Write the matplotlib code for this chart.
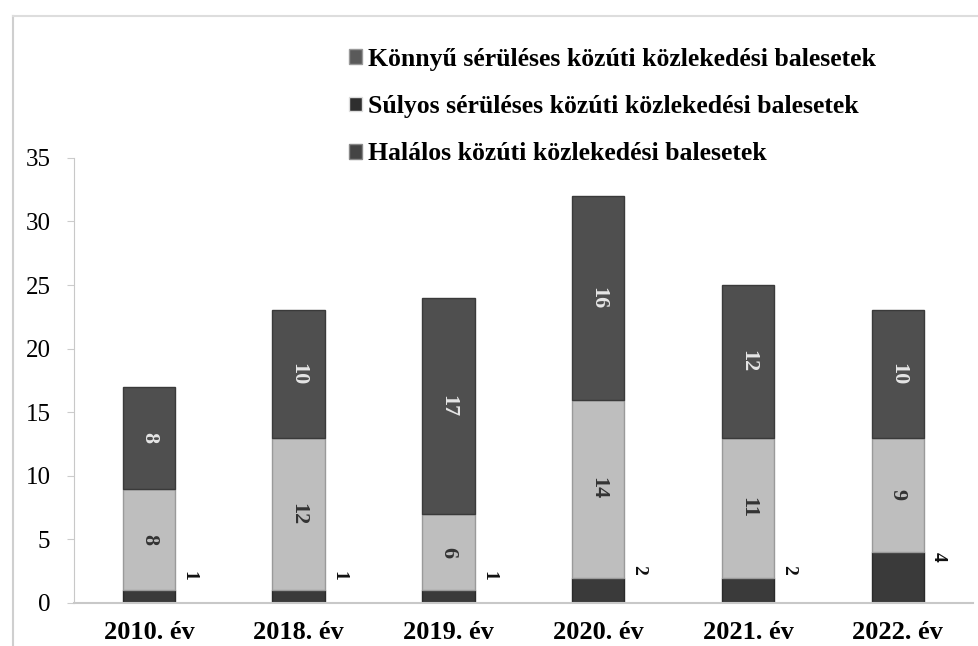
import numpy as np
import matplotlib.pyplot as plt
from matplotlib.lines import Line2D
from matplotlib.patches import Patch

plt.rcParams['font.family'] = ['Liberation Serif', 'DejaVu Serif']

# data
years = ["2010. év", "2018. év", "2019. év", "2020. év", "2021. év", "2022. év"]
halalos = [1, 1, 1, 2, 2, 4]
sulyos = [8, 12, 6, 14, 11, 9]
konnyu = [8, 10, 17, 16, 12, 10]

labels = ["Könnyű sérüléses közúti közlekedési balesetek",
          "Súlyos sérüléses közúti közlekedési balesetek",
          "Halálos közúti közlekedési balesetek"]

c_top = "#4f4f4f"
c_mid = "#bebebe"
c_bot = "#3a3a3a"

fig = plt.figure(figsize=(9.79, 6.46), dpi=100)
ax = fig.add_axes([0.0756, 0.0666, 0.918, 0.689])

x = np.arange(len(years))
w = 0.35
halalos = np.array(halalos)
sulyos = np.array(sulyos)
konnyu = np.array(konnyu)

ax.bar(x, halalos, w, color=c_bot, edgecolor="#2a2a2a", linewidth=1)
ax.bar(x, sulyos, w, bottom=halalos, color=c_mid, edgecolor="#9a9a9a", linewidth=1)
ax.bar(x, konnyu, w, bottom=halalos + sulyos, color=c_top, edgecolor="#3a3a3a", linewidth=1)

# value labels, rotated like in the scan
for i in range(len(years)):
    ax.text(x[i], halalos[i] + sulyos[i] + konnyu[i] / 2, str(konnyu[i]), rotation=-90,
            ha="center", va="center", fontsize=16, fontweight="bold", color="#e6e6e6")
    ax.text(x[i], halalos[i] + sulyos[i] / 2, str(sulyos[i]), rotation=-90,
            ha="center", va="center", fontsize=16, fontweight="bold", color="#333333")
    ax.text(x[i] + 0.27, halalos[i] / 2 + 1.6, str(halalos[i]), rotation=-90,
            ha="center", va="center", fontsize=14, fontweight="bold", color="#111111")

ax.set_xlim(-0.5, 5.5)
ax.set_ylim(0, 35)
ax.set_yticks(range(0, 36, 5))
ax.set_xticks(x)
ax.set_xticklabels(years, fontsize=19, fontweight="bold")
ax.tick_params(axis="y", labelsize=18, length=5, color="#cccccc", pad=12)
ax.tick_params(axis="x", length=0, pad=13)
for s in ["top", "right"]:
    ax.spines[s].set_visible(False)
ax.spines["left"].set_color("#c8c8c8")
ax.spines["bottom"].set_color("#c8c8c8")
ax.spines["bottom"].set_linewidth(1.5)

handles = [Patch(facecolor="#5a5a5a", edgecolor="#999999"),
           Patch(facecolor="#2e2e2e", edgecolor="#dddddd"),
           Patch(facecolor="#444444", edgecolor="#888888")]
leg = fig.legend(handles, labels, loc="upper left", bbox_to_anchor=(0.333, 0.962),
                 frameon=False, prop={"weight": "bold", "size": 18.5},
                 handlelength=0.5, handleheight=0.5, handletextpad=0.25, labelspacing=0.95)

# thin frame of the scanned picture
fig.add_artist(Line2D([0.013, 0.013], [0.0, 0.975], color="#cfcfcf", lw=1.5))
fig.add_artist(Line2D([0.013, 1.0], [0.975, 0.975], color="#dddddd", lw=1.5))

fig.savefig("out.png", dpi=100)
